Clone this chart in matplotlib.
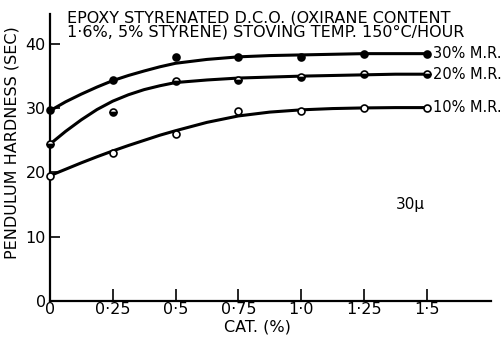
import matplotlib
matplotlib.use("Agg")
import matplotlib.pyplot as plt

plt.rcParams['font.family'] = ['DejaVu Sans']

cat = [0, 0.25, 0.5, 0.75, 1.0, 1.25, 1.5]
mr30 = [29.7, 34.4, 38.0, 37.9, 37.9, 38.5, 38.5]
mr20 = [24.4, 29.4, 34.3, 34.4, 34.8, 35.3, 35.3]
mr10 = [19.5, 23.1, 26.0, 29.6, 29.6, 30.1, 30.1]

# smooth curves
curve_x = [0, 0.0625, 0.125, 0.1875, 0.25, 0.3125, 0.375, 0.4375, 0.5,
           0.625, 0.75, 0.875, 1.0, 1.125, 1.25, 1.375, 1.5]
curve30 = [29.6, 31.0, 32.2, 33.3, 34.3, 35.1, 35.8, 36.45, 37.0,
           37.6, 38.0, 38.2, 38.3, 38.4, 38.5, 38.5, 38.5]
curve20 = [24.4, 26.4, 28.2, 29.8, 31.1, 32.1, 32.9, 33.5, 34.0,
           34.4, 34.7, 34.85, 35.0, 35.1, 35.2, 35.3, 35.3]
curve10 = [19.5, 20.5, 21.5, 22.45, 23.35, 24.2, 25.0, 25.8, 26.5,
           27.8, 28.8, 29.4, 29.75, 29.95, 30.05, 30.1, 30.1]

xticks = [0, 0.25, 0.5, 0.75, 1.0, 1.25, 1.5]
xticklabels = ['0', '0·25', '0·5', '0·75', '1·0', '1·25', '1·5']
yticks = [0, 10, 20, 30, 40]
labels = ['30% M.R.', '20% M.R.', '10% M.R.']

fig = plt.figure(figsize=(5.04, 3.37), dpi=100)
ax = fig.add_axes([0.099, 0.107, 0.875, 0.852])

lw = 2.2
ms = 5.0
for cy in (curve30, curve20, curve10):
    ax.plot(curve_x, cy, color='black', lw=lw, solid_capstyle='round',
            solid_joinstyle='round', zorder=2)

ax.plot(cat, mr30, 'o', color='black', ms=ms, mfc='black', mec='black', mew=1.2, ls='none', zorder=3, clip_on=False)
ax.plot(cat, mr20, 'o', color='black', ms=ms, fillstyle='bottom', mfc='black', mfcalt='white', mec='black', mew=1.2, ls='none', zorder=3, clip_on=False)
ax.plot(cat, mr10, 'o', color='black', ms=ms, mfc='white', mec='black', mew=1.2, ls='none', zorder=3, clip_on=False)

for yv, lab in zip((mr30[-1], mr20[-1], mr10[-1]), labels):
    ax.text(1.525, yv, lab, fontsize=10.5, va='center', ha='left')

ax.text(1.435, 15.0, '30μ', fontsize=11, va='center', ha='center')

fig.text(0.133, 0.97, 'EPOXY STYRENATED D.C.O. (OXIRANE CONTENT\n1·6%, 5% STYRENE) STOVING TEMP. 150°C/HOUR',
         fontsize=11.5, va='top', ha='left', linespacing=0.95)

ax.set_xlim(0, 1.755)
ax.set_ylim(0, 44.7)
ax.set_xticks(xticks)
ax.set_xticklabels(xticklabels)
ax.set_yticks(yticks)
ax.tick_params(direction='in', width=1.2, labelsize=11.5, colors='black')
ax.tick_params(axis='x', length=8.5, pad=1)
ax.tick_params(axis='y', length=7, pad=3)
for s in ('top', 'right'):
    ax.spines[s].set_visible(False)
for s in ('left', 'bottom'):
    ax.spines[s].set_linewidth(1.6)
ax.set_xlabel('CAT. (%)', fontsize=11.5)
ax.set_ylabel('PENDULUM HARDNESS (SEC)', fontsize=11.5)
ax.xaxis.set_label_coords(0.47, -0.065)
ax.yaxis.set_label_coords(-0.068, 0.55)

fig.savefig('out.png', dpi=100)
